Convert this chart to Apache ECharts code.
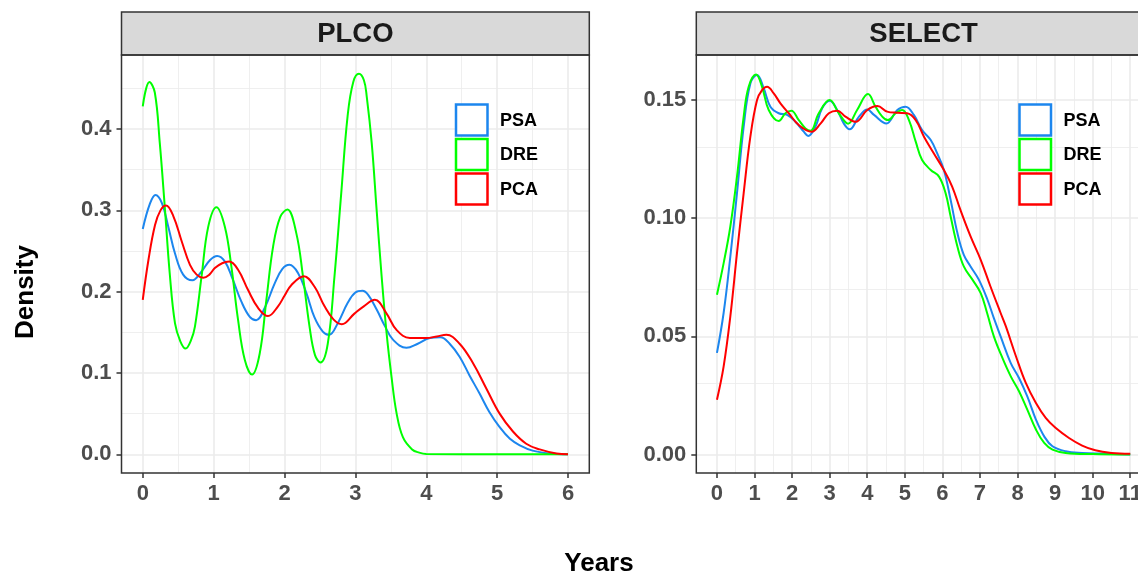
<!DOCTYPE html>
<html><head><meta charset="utf-8">
<script src="https://cdn.jsdelivr.net/npm/echarts@6/dist/echarts.min.js"></script>
<style>html,body{margin:0;padding:0;background:#fff}#c{width:1138px;height:574px}</style>
</head><body><div id="c"></div>
<script>
// ---------- DATA ----------
const panels = ['PLCO', 'SELECT'];
const seriesNames = ['PSA', 'DRE', 'PCA'];

// PLCO panel
const plcoPsaX = [0,0.1,0.18,0.27,0.36,0.455,0.57,0.7,0.83,0.95,1.05,1.16,1.27,1.39,1.51,1.6,1.72,1.86,1.97,2.07,2.19,2.31,2.42,2.54,2.63,2.75,2.89,3.0,3.1,3.18,3.3,3.42,3.53,3.72,3.88,4.05,4.2,4.33,4.47,4.61,4.75,4.89,5.03,5.18,5.32,5.5,5.74,6.0];
const plcoPsaY = [0.277,0.308,0.319,0.309,0.28,0.247,0.221,0.214,0.225,0.239,0.244,0.237,0.215,0.188,0.169,0.165,0.18,0.21,0.228,0.233,0.223,0.198,0.169,0.151,0.147,0.161,0.186,0.199,0.201,0.196,0.178,0.157,0.141,0.131,0.136,0.143,0.144,0.136,0.12,0.097,0.075,0.052,0.034,0.019,0.011,0.0045,0.001,0.0];

const plcoDreX = [0,0.094,0.17,0.24,0.31,0.38,0.455,0.53,0.605,0.68,0.736,0.83,0.924,1.04,1.158,1.25,1.345,1.44,1.542,1.65,1.744,1.84,1.94,2.04,2.166,2.26,2.353,2.43,2.508,2.61,2.705,2.8,2.89,2.97,3.05,3.12,3.16,3.23,3.3,3.37,3.44,3.51,3.58,3.67,3.8,3.9,4.0,5.0,6.0];
const plcoDreY = [0.428,0.458,0.445,0.383,0.305,0.223,0.161,0.139,0.130,0.14,0.157,0.219,0.28,0.304,0.28,0.231,0.165,0.116,0.098,0.124,0.19,0.256,0.292,0.301,0.272,0.219,0.157,0.122,0.113,0.136,0.219,0.321,0.416,0.458,0.468,0.46,0.44,0.383,0.30,0.219,0.149,0.095,0.051,0.021,0.006,0.002,0.0003,0,0];

const plcoPcaX = [0,0.08,0.173,0.25,0.328,0.431,0.549,0.666,0.76,0.853,0.94,1.017,1.12,1.219,1.345,1.486,1.627,1.767,1.908,2.0,2.095,2.274,2.424,2.565,2.69,2.808,2.986,3.118,3.275,3.44,3.58,3.768,4.0,4.15,4.284,4.47,4.66,4.847,5.035,5.223,5.41,5.6,5.836,6.0];
const plcoPcaY = [0.19,0.239,0.282,0.300,0.306,0.293,0.262,0.233,0.221,0.217,0.221,0.229,0.235,0.237,0.227,0.202,0.18,0.17,0.182,0.195,0.208,0.219,0.206,0.182,0.166,0.16,0.173,0.182,0.19,0.173,0.153,0.143,0.143,0.145,0.147,0.136,0.112,0.081,0.05,0.028,0.013,0.006,0.001,0.0];

// SELECT panel
const selPsaX = [0,0.178,0.356,0.533,0.711,0.889,1.067,1.244,1.422,1.644,1.867,2.089,2.311,2.427,2.62,2.8,3.0,3.2,3.378,3.53,3.78,4.0,4.18,4.51,4.8,5.02,5.24,5.46,5.69,5.86,6.04,6.22,6.4,6.57,6.75,6.97,7.2,7.37,7.55,7.82,8.04,8.26,8.49,8.71,8.93,9.28,9.72,10.34,11];
const selPsaY = [0.043,0.06,0.0838,0.1106,0.1387,0.157,0.1606,0.155,0.1472,0.1444,0.1437,0.1408,0.1366,0.1348,0.1387,0.1465,0.1497,0.1458,0.14,0.1376,0.143,0.146,0.1437,0.1401,0.1458,0.1472,0.1437,0.1373,0.1331,0.1275,0.1204,0.1077,0.0937,0.0845,0.0796,0.074,0.0655,0.0577,0.05,0.0387,0.0324,0.0246,0.0148,0.0077,0.0035,0.0014,0.0007,0.0004,0.0];

const selDreX = [0,0.178,0.356,0.533,0.711,0.844,1.04,1.2,1.378,1.644,1.822,1.98,2.178,2.356,2.49,2.71,3.0,3.244,3.49,3.73,4.02,4.22,4.4,4.55,4.754,4.93,5.11,5.29,5.46,5.69,5.91,6.085,6.22,6.4,6.57,6.8,7.02,7.19,7.37,7.6,7.82,8.04,8.26,8.49,8.71,8.93,9.28,10,11];
const selDreY = [0.0676,0.081,0.0965,0.1176,0.143,0.1556,0.1608,0.1556,0.1458,0.1411,0.1444,0.1455,0.1415,0.138,0.137,0.1444,0.15,0.1444,0.14,0.1458,0.1525,0.1472,0.143,0.1415,0.1444,0.1458,0.1415,0.1324,0.1246,0.1204,0.1176,0.1106,0.1007,0.088,0.0796,0.074,0.0683,0.0599,0.05,0.0408,0.0331,0.0268,0.019,0.0106,0.0049,0.0021,0.0007,0.0002,0.0];

const selPcaX = [0,0.178,0.356,0.533,0.711,0.889,1.067,1.2,1.333,1.511,1.689,1.911,2.178,2.516,2.756,2.978,3.2,3.42,3.69,4.0,4.27,4.53,4.8,5.06,5.29,5.51,5.77,6.04,6.26,6.48,6.75,7.02,7.28,7.55,7.69,7.96,8.22,8.49,8.75,9.01,9.37,9.72,10.07,10.5,11];
const selPcaY = [0.0232,0.0373,0.0585,0.0852,0.1106,0.1345,0.15,0.1542,0.1556,0.1528,0.1486,0.1444,0.1394,0.1366,0.14,0.1444,0.1455,0.143,0.1408,0.1458,0.1475,0.1451,0.1446,0.1444,0.1415,0.1345,0.1275,0.1204,0.1134,0.1035,0.0923,0.0824,0.0711,0.0599,0.0542,0.0415,0.0303,0.0218,0.0155,0.0113,0.007,0.0038,0.0018,0.0007,0.0003];

// ticks
const plcoXTicks = [0,1,2,3,4,5,6];
const plcoXMinor = [0.5,1.5,2.5,3.5,4.5,5.5];
const plcoYTicks = [0,0.1,0.2,0.3,0.4];
const plcoYMinor = [0.05,0.15,0.25,0.35,0.45];
const selXTicks = [0,1,2,3,4,5,6,7,8,9,10,11];
const selXMinor = [0.5,1.5,2.5,3.5,4.5,5.5,6.5,7.5,8.5,9.5,10.5,11.5];
const selYTicks = [0,0.05,0.10,0.15];
const selYMinor = [0.025,0.075,0.125];

// ---------- STYLE ----------
const colors = {PSA:'#1C86EE', DRE:'#00FF00', PCA:'#FF0000'};
const FF = '"Liberation Sans", Arial, Helvetica, sans-serif';
const W = 1138;
const G = [
  {left:121.5, top:55, width:467.8, height:418},
  {left:696.3, top:55, width:454.6, height:418}
];
const LEG = [ {x:456, y:104.5}, {x:1019.5, y:104.5} ];

function zip(xs, ys){ return xs.map((x,i)=>[x, ys[i]]); }

const chart = echarts.init(document.getElementById('c'), null, {renderer:'canvas'});

function gridLineSeries(idx, xMaj, xMin, yMaj, yMin){
  const maj = {color:'#EBEBEB', width:1.6, type:'solid'};
  const mnr = {color:'#EBEBEB', width:0.8, type:'solid'};
  const d = [];
  xMin.forEach(v=>d.push({xAxis:v, lineStyle:mnr}));
  yMin.forEach(v=>d.push({yAxis:v, lineStyle:mnr}));
  xMaj.forEach(v=>d.push({xAxis:v, lineStyle:maj}));
  yMaj.forEach(v=>d.push({yAxis:v, lineStyle:maj}));
  return {
    type:'line', xAxisIndex:idx, yAxisIndex:idx, data:[], z:1, silent:true,
    markLine:{silent:true, z:1, symbol:['none','none'], label:{show:false}, animation:false, data:d}
  };
}

function lineSeries(idx, name, xs, ys){
  return {
    type:'line', name:name, xAxisIndex:idx, yAxisIndex:idx, data:zip(xs, ys),
    showSymbol:false, symbol:'none', smooth:0.4, z:3,
    lineStyle:{color:colors[name], width:2}, itemStyle:{color:colors[name]},
    clip:true, animation:false
  };
}

function xAxisOpt(idx, min, max, ticks){
  return {
    gridIndex:idx, type:'value', min:min, max:max,
    axisLine:{show:false, onZero:false},
    axisTick:{show:true, customValues:ticks, length:5, lineStyle:{color:'#333333', width:1.5}},
    axisLabel:{customValues:ticks, fontSize:22, fontWeight:'bold', color:'#4D4D4D', fontFamily:FF, margin:10,
      formatter:v=>String(v)},
    splitLine:{show:false}, minorSplitLine:{show:false}
  };
}
function yAxisOpt(idx, min, max, ticks, dec){
  return {
    gridIndex:idx, type:'value', min:min, max:max,
    axisLine:{show:false, onZero:false},
    axisTick:{show:true, customValues:ticks, length:5, lineStyle:{color:'#333333', width:1.5}},
    axisLabel:{customValues:ticks, fontSize:22, fontWeight:'bold', color:'#4D4D4D', fontFamily:FF, margin:10,
      formatter:v=>Number(v).toFixed(dec)},
    splitLine:{show:false}
  };
}

// legend keys (outlined boxes, as in the ggplot density legend)
function legendGraphics(pos){
  const out = [];
  seriesNames.forEach((n, i)=>{
    const y = pos.y + i*34.5;
    out.push({type:'rect', z:50, shape:{x:pos.x, y:y, width:31.5, height:31},
      style:{fill:'#ffffff', stroke:colors[n], lineWidth:2.5}});
    out.push({type:'text', z:51, x:pos.x + 44, y:y + 16.5,
      style:{text:n, fill:'#000000', fontSize:18, fontWeight:'bold', fontFamily:FF, align:'left', verticalAlign:'middle'}});
  });
  return out;
}

function stripGraphics(i, label){
  const g = G[i];
  return [
    {type:'rect', z:100, shape:{x:g.left, y:12, width:g.width, height:43},
      style:{fill:'#D9D9D9', stroke:'#333333', lineWidth:1.5}},
    {type:'text', z:101, x:g.left + g.width/2, y:34,
      style:{text:label, fill:'#1A1A1A', fontSize:27.5, fontWeight:'bold', fontFamily:FF, align:'center', verticalAlign:'middle'}},
    {type:'rect', z:100, shape:{x:g.left, y:g.top, width:g.width, height:g.height},
      style:{fill:'none', stroke:'#333333', lineWidth:1.5}}
  ];
}

const option = {
  backgroundColor:'#ffffff',
  animation:false,
  grid: G.map(g=>({left:g.left, top:g.top, right:W - g.left - g.width, height:g.height, show:true,
    backgroundColor:'#ffffff', borderWidth:0, containLabel:false, outerBoundsMode:'none'})),
  xAxis:[ xAxisOpt(0, -0.3, 6.3, plcoXTicks), xAxisOpt(1, -0.55, 11.55, selXTicks) ],
  yAxis:[ yAxisOpt(0, -0.0230, 0.4911, plcoYTicks, 1), yAxisOpt(1, -0.0078, 0.16905, selYTicks, 2) ],
  series:[
    gridLineSeries(0, plcoXTicks, plcoXMinor, plcoYTicks, plcoYMinor),
    gridLineSeries(1, selXTicks, selXMinor, selYTicks, selYMinor),
    lineSeries(0,'PSA',plcoPsaX,plcoPsaY),
    lineSeries(0,'DRE',plcoDreX,plcoDreY),
    lineSeries(0,'PCA',plcoPcaX,plcoPcaY),
    lineSeries(1,'PSA',selPsaX,selPsaY),
    lineSeries(1,'DRE',selDreX,selDreY),
    lineSeries(1,'PCA',selPcaX,selPcaY)
  ],
  graphic:[].concat(
    stripGraphics(0, panels[0]),
    stripGraphics(1, panels[1]),
    legendGraphics(LEG[0]),
    legendGraphics(LEG[1]),
    [
      {type:'text', z:101, x:26, y:292, rotation:Math.PI/2,
        style:{text:'Density', fill:'#000', fontSize:26, fontWeight:'bold', fontFamily:FF, align:'center', verticalAlign:'middle'}},
      {type:'text', z:101, x:599, y:564,
        style:{text:'Years', fill:'#000', fontSize:26, fontWeight:'bold', fontFamily:FF, align:'center', verticalAlign:'middle'}}
    ]
  )
};
chart.setOption(option);
</script></body></html>
